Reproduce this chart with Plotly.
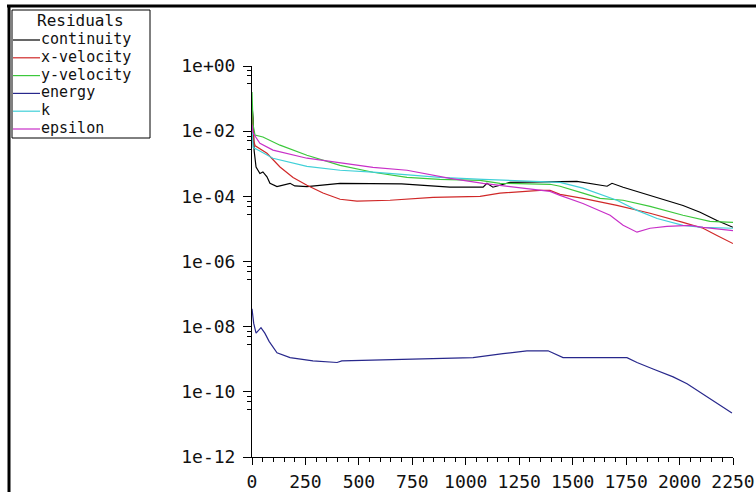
import numpy as np
import plotly.graph_objects as go

# ---------------- data (iteration, log10 residual) ----------------
it_cont = [0, 5, 10, 19, 37, 51, 70, 84, 117, 150, 178, 200, 257, 412, 700, 926, 1081, 1099, 1127, 1207, 1427, 1520, 1661, 1684, 1736, 1862, 2016, 2096, 2175, 2250]
log_cont = [-1.2, -1.6, -2.6, -3.1, -3.3, -3.25, -3.4, -3.6, -3.7, -3.65, -3.6, -3.68, -3.7, -3.6, -3.62, -3.72, -3.72, -3.6, -3.72, -3.57, -3.54, -3.54, -3.69, -3.6, -3.72, -3.97, -4.28, -4.49, -4.74, -4.95]

it_xvel = [0, 4, 8, 15, 70, 131, 192, 257, 332, 412, 491, 646, 847, 1067, 1160, 1347, 1394, 1441, 1548, 1707, 1862, 2016, 2110, 2175, 2250]
log_xvel = [-1.3, -1.7, -2.3, -2.45, -2.68, -3.1, -3.42, -3.66, -3.9, -4.09, -4.15, -4.12, -4.03, -4.0, -3.9, -3.82, -3.82, -3.94, -4.06, -4.28, -4.52, -4.8, -4.98, -5.2, -5.45]

it_yvel = [0, 5, 14, 51, 131, 257, 412, 566, 725, 879, 1067, 1160, 1394, 1441, 1548, 1628, 1736, 1862, 2016, 2142, 2250]
log_yvel = [-0.8, -1.8, -2.12, -2.18, -2.43, -2.74, -3.05, -3.26, -3.42, -3.48, -3.51, -3.6, -3.63, -3.69, -3.9, -4.06, -4.12, -4.31, -4.58, -4.77, -4.8]

it_energy = [0, 8, 19, 42, 60, 80, 117, 178, 285, 398, 420, 600, 786, 1034, 1174, 1286, 1385, 1455, 1754, 1801, 1876, 1970, 2035, 2245]
log_energy = [-7.45, -7.9, -8.2, -8.03, -8.2, -8.45, -8.8, -8.95, -9.05, -9.1, -9.05, -9.02, -8.98, -8.95, -8.83, -8.74, -8.74, -8.95, -8.95, -9.1, -9.3, -9.54, -9.75, -10.65]

it_k = [0, 5, 28, 98, 257, 412, 566, 725, 879, 1081, 1315, 1441, 1548, 1707, 1801, 1895, 2016, 2110, 2250]
log_k = [-1.9, -2.5, -2.58, -2.83, -3.08, -3.2, -3.26, -3.35, -3.42, -3.48, -3.54, -3.57, -3.75, -4.12, -4.43, -4.68, -4.89, -4.95, -4.98]

it_eps = [0, 5, 37, 98, 257, 412, 566, 725, 879, 926, 1081, 1240, 1394, 1441, 1548, 1675, 1736, 1801, 1862, 1941, 2049, 2110, 2250]
log_eps = [-1.8, -2.06, -2.37, -2.58, -2.83, -2.98, -3.11, -3.2, -3.38, -3.45, -3.6, -3.72, -3.85, -3.97, -4.22, -4.58, -4.89, -5.1, -4.98, -4.92, -4.89, -4.95, -5.05]

series_names = ["continuity", "x-velocity", "y-velocity", "energy", "k", "epsilon"]
series_colors = ["#000000", "#d02828", "#3cc83c", "#28288c", "#40d0d8", "#c830c8"]
series_x = [it_cont, it_xvel, it_yvel, it_energy, it_k, it_eps]
series_y = [log_cont, log_xvel, log_yvel, log_energy, log_k, log_eps]

x_ticks = list(range(0, 2251, 250))
y_tick_exps = [0, -2, -4, -6, -8, -10, -12]
y_tick_text = ["1e+00", "1e-02", "1e-04", "1e-06", "1e-08", "1e-10", "1e-12"]
legend_title = "Residuals"

# ---------------- layout geometry ----------------
W, H = 756, 492
ML, MR, MT, MB = 252, 23, 66, 35
PW, PH = W - ML - MR, H - MT - MB
FONT = "DejaVu Sans Mono"
TXT = "#111111"


def px(x):
    return (x - ML) / PW


def py(y):
    return (H - MB - y) / PH


fig = go.Figure()
for name, col, xs, ys in zip(series_names, series_colors, series_x, series_y):
    fig.add_trace(go.Scatter(
        x=xs, y=10 ** np.array(ys, dtype=float), mode="lines", name=name,
        line=dict(color=col, width=1.2), showlegend=False))

minor_y = []
for d in y_tick_exps:
    for off in (0.15, 0.3, 0.55):
        if d - off >= -12:
            minor_y.append(10 ** (d - off))

fig.update_layout(
    width=W, height=H,
    margin=dict(l=ML, r=MR, t=MT, b=MB, pad=0, autoexpand=False),
    paper_bgcolor="white", plot_bgcolor="white",
    font=dict(family=FONT, size=18, color=TXT),
    xaxis=dict(range=[0, 2250], tickvals=x_ticks, ticks="outside", ticklen=7,
               tickcolor="black", showline=True, linecolor="black", linewidth=1,
               showgrid=False, zeroline=False, automargin=False, ticklabelstandoff=1,
               tickfont=dict(family=FONT, size=18, color=TXT),
               minor=dict(dtick=50, tick0=0, ticks="outside", ticklen=4, tickcolor="black")),
    yaxis=dict(type="log", range=[-12, 0], tickvals=[10.0 ** e for e in y_tick_exps],
               ticktext=y_tick_text, ticks="outside", ticklen=8, tickcolor="black",
               showline=True, linecolor="black", linewidth=1, showgrid=False,
               zeroline=False, ticklabelstandoff=4, automargin=False,
               tickfont=dict(family=FONT, size=18, color=TXT),
               minor=dict(tickmode="array", tickvals=minor_y, ticks="outside",
                          ticklen=4, tickcolor="black")),
)

shapes = []
# outer frame lines (top and left)
shapes.append(dict(type="line", xref="paper", yref="paper", x0=px(7), x1=px(W + 5),
                   y0=py(6), y1=py(6), line=dict(color="black", width=3)))
shapes.append(dict(type="line", xref="paper", yref="paper", x0=px(9), x1=px(9),
                   y0=py(5), y1=py(H + 5), line=dict(color="black", width=3)))
# legend box
shapes.append(dict(type="rect", xref="paper", yref="paper", x0=px(12), x1=px(150),
                   y0=py(10), y1=py(138), line=dict(color="black", width=1),
                   fillcolor="rgba(0,0,0,0)"))

annotations = [dict(text=legend_title, xref="paper", yref="paper", x=px(80), y=py(21),
                    xanchor="center", yanchor="middle", showarrow=False, borderpad=0,
                    height=17, font=dict(family=FONT, size=16, color=TXT))]
LEG_FS = 15
row_step = 17.8
row0 = 39
for i, (name, col) in enumerate(zip(series_names, series_colors)):
    ry = row0 + i * row_step
    shapes.append(dict(type="line", xref="paper", yref="paper", x0=px(13), x1=px(40),
                       y0=py(ry + 1), y1=py(ry + 1), line=dict(color=col, width=1.2)))
    annotations.append(dict(text=name, xref="paper", yref="paper", x=px(40), y=py(ry),
                            xanchor="left", yanchor="middle", showarrow=False,
                            borderpad=0, height=16,
                            font=dict(family=FONT, size=LEG_FS, color=TXT)))

fig.update_layout(shapes=shapes, annotations=annotations)
fig.write_html("out.html")
